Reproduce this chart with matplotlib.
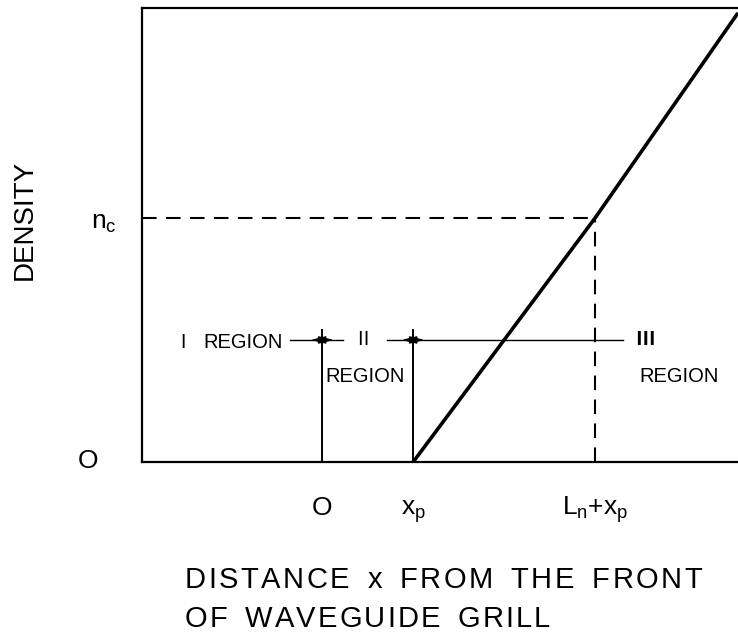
import matplotlib
matplotlib.use('Agg')
import matplotlib.pyplot as plt

plt.rcParams['font.family'] = ['Liberation Sans', 'DejaVu Sans']
plt.rcParams['mathtext.default'] = 'regular'

# characteristic positions (normalised units)
x_p = 1.0
L_n = 2.0
n_c = 1.0

# density profile: zero up to x_p, then a linear ramp
profile_x = [x_p, x_p + L_n, 4.57]
profile_n = [0.0, n_c, 1.84]

# region boundaries and the marker line between them
region_bounds = [0.0, x_p]
region_level = 0.5
bound_top = 0.54
region_segments = [(-0.35, 0.23), (0.71, 3.31)]

xtick_pos = [0.0, x_p, x_p + L_n]
xtick_labels = ['O', r'$x_p$', r'$L_n{+}x_p$']
ytick_pos = [0.0, n_c]
ytick_labels = ['O', r'$n_c$']

W, H = 738, 635
fig = plt.figure(figsize=(W / 100, H / 100), dpi=100)
ax = fig.add_axes([142 / W, (H - 462) / H, 1 - 142 / W, 454 / H])
ax.set_xlim(-1.98, 4.57)
ax.set_ylim(0, 1.86)

for side in ['left', 'top', 'bottom']:
    ax.spines[side].set_linewidth(1.6)
ax.spines['right'].set_visible(False)
ax.set_xticks([])
ax.set_yticks([])

# ramp
ax.plot(profile_x, profile_n, color='black', lw=2.6, solid_capstyle='butt')

# critical density guides
ax.plot([ax.get_xlim()[0], xtick_pos[2]], [n_c, n_c], color='black', lw=1.5,
        dashes=(7, 4.5))
ax.plot([xtick_pos[2], xtick_pos[2]], [0, n_c], color='black', lw=1.5,
        dashes=(7, 4.5))

# region boundaries
for xb in region_bounds:
    ax.plot([xb, xb], [0, bound_top], color='black', lw=1.4)
for x0, x1 in region_segments:
    ax.plot([x0, x1], [region_level, region_level], color='black', lw=1.0)

# small arrows pointing away from each boundary
for xb in region_bounds:
    for d in (-0.13, 0.13):
        ax.annotate('', xy=(xb + d, region_level), xytext=(xb, region_level),
                    arrowprops=dict(arrowstyle='-|>,head_length=0.9,head_width=0.22',
                                    mutation_scale=10, lw=1.0, color='black',
                                    shrinkA=0, shrinkB=0))

# region labels
roman = ['Noto Sans CJK JP', 'DejaVu Serif']
ax.text(-1.53, 0.49, 'Ⅰ', family=roman, fontsize=14, ha='center', va='center')
ax.text(-1.31, 0.49, 'REGION', fontsize=14.5, ha='left', va='center')
ax.text(0.45, 0.5, 'Ⅱ', family=roman, fontsize=14, ha='center', va='center')
ax.text(0.03, 0.35, 'REGION', fontsize=14.5, ha='left', va='center')
ax.text(3.55, 0.5, 'Ⅲ', family=roman, fontsize=14, fontweight='bold',
        ha='center', va='center')
ax.text(3.49, 0.35, 'REGION', fontsize=14.5, ha='left', va='center')

# axis labels at the marked positions
for xv, lab in zip(xtick_pos, xtick_labels):
    ax.annotate(lab, xy=(xv, 0), xycoords=('data', 'axes fraction'),
                xytext=(0, -38), textcoords='offset points',
                ha='center', va='baseline', fontsize=19, annotation_clip=False)
ax.annotate(ytick_labels[0], xy=(0, ytick_pos[0]), xycoords=('axes fraction', 'data'),
            xytext=(-39, -4.3), textcoords='offset points',
            ha='center', va='baseline', fontsize=19, annotation_clip=False)
ax.annotate(ytick_labels[1], xy=(0, ytick_pos[1]), xycoords=('axes fraction', 'data'),
            xytext=(-18, -8), textcoords='offset points',
            ha='right', va='baseline', fontsize=19, annotation_clip=False)

fig.text(25 / W, 1 - 220 / H, 'DENSITY', rotation=90, fontsize=20,
         ha='center', va='center')


def tracked_text(s, x0, x1, base, size, space=13):
    # lay out a line of capitals letter by letter so it spans x0..x1 pixels
    renderer = fig.canvas.get_renderer()
    widths = []
    for ch in s:
        if ch == ' ':
            widths.append(space)
            continue
        t = fig.text(0, 0, ch, fontsize=size)
        widths.append(t.get_window_extent(renderer).width)
        t.remove()
    track = (x1 - x0 - sum(widths)) / (len(s) - 1)
    x = x0
    for ch, w in zip(s, widths):
        if ch != ' ':
            fig.text(x / W, 1 - base / H, ch, fontsize=size, ha='left', va='baseline')
        x += w + track


tracked_text('DISTANCE x FROM THE FRONT', 185, 702, 588, 21)
tracked_text('OF WAVEGUIDE GRILL', 185, 550, 627, 21)

fig.savefig('out.png', dpi=100)
